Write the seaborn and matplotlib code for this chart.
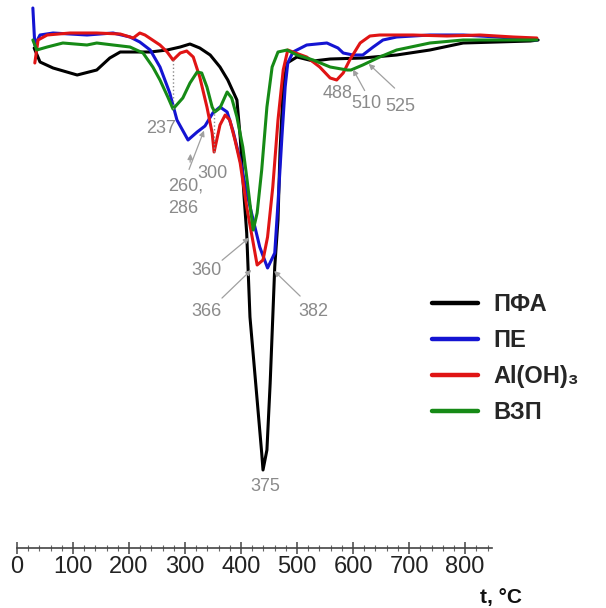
import matplotlib
matplotlib.use("Agg")
import matplotlib.pyplot as plt
import pandas as pd
import seaborn as sns
from matplotlib.ticker import MultipleLocator

# DTG curves, temperature in °C, rate in arbitrary units (y axis is hidden)
samples = ["ПФА", "ПЕ", "Al(OH)₃", "ВЗП"]
colors = ["#000000", "#1414d2", "#e01414", "#168a16"]

pfa_t = [24, 33, 53, 90, 120, 140, 156, 182, 202, 228, 248, 263, 278, 294, 309,
         321, 335, 340, 346, 350, 355, 366, 373, 375, 381, 386, 390, 393, 398,
         401, 406, 412, 427, 452, 478, 528, 580, 631, 682, 734, 785, 797]
pfa_dtg = [-0.3, -1.7, -2.3, -3.0, -2.5, -1.3, -0.7, -0.7, -0.7, -0.5, -0.2, 0.1,
           -0.3, -1.0, -2.2, -3.5, -5.5, -9.2, -15.2, -18.8, -27.2, -35.5, -40.8,
           -42.5, -40.5, -33.8, -27.2, -22.2, -17.5, -10.8, -4.2, -1.8, -1.2,
           -1.6, -1.4, -1.3, -1.0, -0.5, 0.2, 0.3, 0.4, 0.5]

pe_t = [22, 25, 33, 53, 105, 145, 171, 186, 202, 217, 232, 243, 260, 274, 286,
        298, 309, 320, 329, 340, 350, 360, 370, 382, 393, 398, 404, 409, 413,
        421, 442, 473, 490, 498, 513, 528, 544, 559, 580, 631, 682, 734, 795]
pe_dtg = [3.7, 0.0, 1.0, 1.2, 1.0, 1.2, 0.8, 0.3, -0.5, -2.2, -4.8, -7.5, -9.5,
          -8.7, -8.1, -6.8, -6.2, -6.7, -8.6, -11.5, -14.8, -17.5, -20.2, -22.3,
          -20.8, -15.8, -9.2, -4.2, -1.8, -0.7, 0.0, 0.2, -0.3, -0.8, -1.0, -1.0,
          -0.2, 0.5, 0.8, 1.0, 1.0, 0.8, 0.5]

aloh_t = [25, 30, 44, 79, 120, 156, 176, 186, 194, 217, 228, 237, 248, 258, 268,
          278, 289, 297, 300, 309, 317, 324, 332, 340, 350, 360, 366, 375, 382,
          390, 398, 406, 413, 421, 442, 462, 478, 488, 498, 508, 524, 539, 554,
          605, 657, 708, 759, 795]
aloh_dtg = [-1.8, 0.5, 1.0, 1.2, 1.2, 1.1, 0.7, 1.2, 1.0, 0.0, -0.7, -1.5, -0.8,
            -0.6, -1.2, -3.2, -6.2, -8.8, -10.7, -8.0, -7.0, -7.5, -9.5, -11.8,
            -16.2, -19.8, -22.0, -21.5, -19.2, -14.2, -7.5, -2.5, -0.5, -0.7,
            -1.2, -2.2, -3.3, -3.5, -2.8, -1.5, 0.2, 0.9, 1.0, 1.0, 0.9, 1.0,
            0.8, 0.7]

vzp_t = [22, 28, 44, 68, 105, 120, 145, 171, 191, 206, 217, 229, 237, 252, 263,
         274, 281, 289, 297, 301, 309, 320, 327, 335, 344, 350, 358, 360, 366,
         373, 381, 389, 398, 412, 427, 452, 478, 504, 510, 528, 554, 580, 631,
         682, 734, 795]
vzp_dtg = [0.5, -0.5, -0.2, 0.2, 0.0, 0.2, 0.0, -0.2, -0.8, -2.2, -3.5, -5.2,
           -6.4, -5.3, -3.8, -2.7, -2.8, -4.2, -6.2, -6.7, -6.3, -4.7, -5.3, -7.2,
           -10.2, -13.2, -17.5, -18.5, -16.8, -12.5, -6.2, -2.2, -0.7, -0.5, -1.0,
           -1.5, -2.2, -2.5, -2.5, -2.0, -1.2, -0.5, 0.2, 0.5, 0.5, 0.5]

# peak labels: text, text position, arrow start, arrow target (None = no arrow)
peak_labels = [
    ("237", (219, -8.3), None, None),
    ("300", (298, -12.8), None, None),
    ("375", (378, -44.1), None, None),
    ("488", (490, -4.8), None, None),
    ("360", (288, -22.5), (309, -21.7), (357, -19.1)),
    ("366", (288, -26.6), (309, -25.5), (360, -22.3)),
    ("382", (452, -26.6), (435, -25.3), (389, -22.4)),
    ("510", (534, -5.8), (533, -4.8), (511, -2.2)),
    ("525", (585, -6.1), (580, -4.5), (534, -1.7)),
]

NARROW = ["Liberation Sans Narrow", "Liberation Sans", "DejaVu Sans"]
WIDE = ["Liberation Sans", "DejaVu Sans"]
GREY = "#8a8a8a"


def main() -> None:
    series = [(pfa_t, pfa_dtg), (pe_t, pe_dtg), (aloh_t, aloh_dtg), (vzp_t, vzp_dtg)]
    frames = []
    for name, (t, dtg) in zip(samples, series):
        frames.append(pd.DataFrame({"t": t, "dtg": dtg, "sample": name}))
    df = pd.concat(frames, ignore_index=True)

    sns.set_theme(style="white")
    plt.rcParams["font.family"] = NARROW

    fig = plt.figure(figsize=(6.06, 6.08), dpi=100)
    ax = fig.add_axes([0, 0, 1, 1])
    sns.lineplot(data=df, x="t", y="dtg", hue="sample", hue_order=samples,
                 palette=colors, estimator=None, sort=False, linewidth=2.2, ax=ax)
    ax.set_xlim(-28.4, 901.1)
    ax.set_ylim(-56.3, 4.5)
    ax.axis("off")

    # dotted guides under 237 and 300
    ax.plot([237, 237], [-6.4, -1.5], ls=":", color=GREY, lw=1)
    ax.plot([300, 300], [-10.7, -6.6], ls=":", color=GREY, lw=1)

    for text, pos, start, end in peak_labels:
        ax.text(pos[0], pos[1], text, ha="center", va="center",
                fontsize=13, color=GREY)
        if start is not None:
            ax.annotate("", xy=end, xytext=start,
                        arrowprops=dict(arrowstyle="-|>", color="#a0a0a0",
                                        lw=0.9, mutation_scale=8))

    ax.text(230, -15.2, "260,\n286", ha="left", va="center", fontsize=13,
            color=GREY, linespacing=1.45)
    ax.annotate("", xy=(286, -8.3), xytext=(260, -12.7),
                arrowprops=dict(arrowstyle="-|>", color="#a0a0a0", lw=0.9,
                                mutation_scale=8))
    ax.annotate("", xy=(264, -10.6), xytext=(263, -12.0),
                arrowprops=dict(arrowstyle="-|>", color="#a0a0a0", lw=0.9,
                                mutation_scale=8))

    handles, labels = ax.get_legend_handles_labels()
    leg = ax.legend(handles, labels, loc="upper left",
                    bbox_to_anchor=(432 / 606, 1 - 293 / 608),
                    frameon=False, borderpad=0, borderaxespad=0,
                    handlelength=1.95, handletextpad=0.65, labelspacing=0.55,
                    prop=dict(family=WIDE, weight="bold", size=17))
    for line in leg.get_lines():
        line.set_linewidth(3.2)

    # temperature axis drawn as a separate strip
    ax2 = fig.add_axes([17 / 606, 60 / 608, 475 / 606, 0.0001])
    ax2.patch.set_visible(False)
    for side in ["left", "right", "top"]:
        ax2.spines[side].set_visible(False)
    ax2.spines["bottom"].set_color("#444444")
    ax2.spines["bottom"].set_linewidth(1.2)
    ax2.set_xlim(0, 848)
    ax2.set_xticks(range(0, 801, 100))
    ax2.xaxis.set_minor_locator(MultipleLocator(20))
    ax2.set_yticks([])
    ax2.tick_params(axis="x", which="major", direction="inout", length=9,
                    width=1.1, color="#444444", labelsize=17, pad=1,
                    labelcolor="#222222", bottom=True)
    ax2.tick_params(axis="x", which="minor", direction="inout", length=4,
                    width=0.8, color="#666666", bottom=True)

    fig.text(480 / 606, 1 / 608, "t, °C", ha="left", va="bottom", fontsize=15,
             fontweight="bold", family=WIDE, color="#111111")

    fig.savefig("out.png", dpi=100)


if __name__ == "__main__":
    main()
